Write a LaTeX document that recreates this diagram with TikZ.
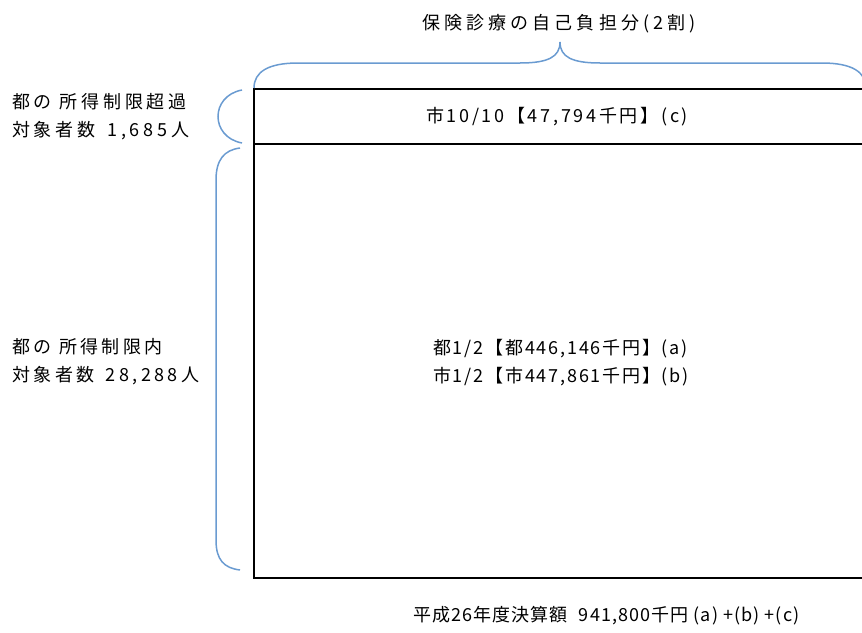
\documentclass[tikz,border=0pt]{standalone}
\usepackage{fontspec}
\setmainfont{Noto Sans CJK JP}
\definecolor{bracecol}{RGB}{106,155,209}
\begin{document}
\begin{tikzpicture}[x=1pt,y=-1pt,
  lbl/.style={font=\fontsize{18}{28}\selectfont\addfontfeature{LetterSpace=#1}, inner sep=0pt, align=left},
  brc/.style={draw=bracecol, line width=1.5pt},
  frame/.style={draw=black, line width=1.5pt}]
\useasboundingbox (0,0) rectangle (862,632);
\clip (0,0) rectangle (862,632);
% box
\draw[frame] (870,89) -- (254,89) -- (254,578) -- (870,578);
\draw[frame] (254,144) -- (870,144);
% top brace
\draw[brc] (254,88) .. controls (254,72) and (268,63) .. (298,63) -- (520,63)
  .. controls (548,63) and (560,57) .. (560,42)
  .. controls (560,57) and (572,63) .. (600,63) -- (822,63)
  .. controls (852,63) and (866,72) .. (866,88);
% small left brace
\draw[brc] (242,90) .. controls (210,96) and (210,137) .. (242,143);
% big left brace
\draw[brc] (240,148) .. controls (224,150) and (216,160) .. (216,180) -- (216,540)
  .. controls (216,560) and (224,568) .. (240,570);
% texts
\node[lbl=23, anchor=center] (title) at (559,24) {保険診療の自己負担分(2割)};
\node[lbl=21, anchor=west] (over) at (12,117) {都の 所得制限超過\\対象者数\hspace{4pt} 1,685人};
\node[lbl=19, anchor=west] (within) at (12,362) {都の 所得制限内\\対象者数\hspace{4pt} 28,288人};
\node[lbl=15, anchor=center] (c) at (557,117) {市10/10【47,794千円】(c)};
\node[lbl=10, anchor=west] (ab) at (433,363) {都1/2【都446,146千円】(a)\\市1/2【市447,861千円】(b)};
\node[lbl=6, anchor=west] (total) at (413,616) {平成26年度決算額\hspace{6pt} 941,800千円 (a) +(b) +(c)};
\end{tikzpicture}
\end{document}
